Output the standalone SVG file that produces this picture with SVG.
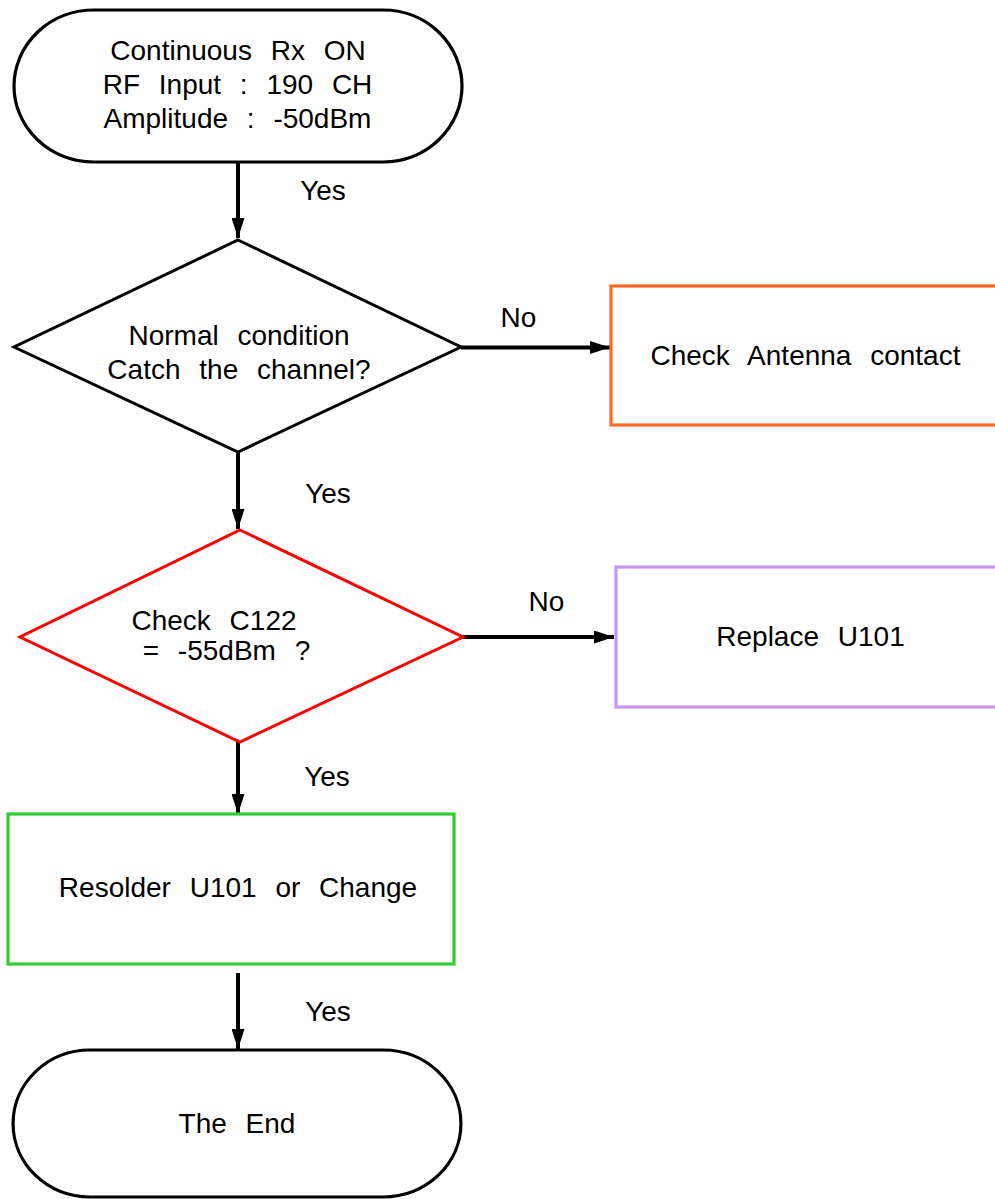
<svg xmlns="http://www.w3.org/2000/svg" width="995" height="1199" viewBox="0 0 995 1199">
<defs>
<style>
.t{font-family:"Liberation Sans",Arial,sans-serif;font-size:28px;fill:#000;text-anchor:middle;word-spacing:11px}
.term{fill:#fff;stroke:#000;stroke-width:3.2}
.conn{stroke:#000;stroke-width:4;fill:none}
</style>
<marker id="ah" markerUnits="userSpaceOnUse" markerWidth="20" markerHeight="13" refX="20" refY="6.5" orient="auto">
<path d="M0,0 L20,6.5 L0,13 Z" fill="#000"/>
</marker>
</defs>
<rect width="995" height="1199" fill="#fff"/>
<g id="connectors">
<line class="conn" x1="238" y1="162" x2="238" y2="238" marker-end="url(#ah)"/>
<line class="conn" x1="238" y1="452" x2="238" y2="529" marker-end="url(#ah)"/>
<line class="conn" x1="461" y1="347.5" x2="610" y2="347.5" marker-end="url(#ah)"/>
<line class="conn" x1="463" y1="637" x2="614" y2="637" marker-end="url(#ah)"/>
<line class="conn" x1="238" y1="742" x2="238" y2="814" marker-end="url(#ah)"/>
<line class="conn" x1="238" y1="973" x2="238" y2="1049" marker-end="url(#ah)"/>
<text class="t" x="323" y="200">Yes</text>
<text class="t" x="518.5" y="327">No</text>
<text class="t" x="328" y="503">Yes</text>
<text class="t" x="546.5" y="611">No</text>
<text class="t" x="327" y="786">Yes</text>
<text class="t" x="328" y="1021">Yes</text>
</g>
<g id="start">
<path class="term" d="M94,10 H383 A79,76 0 0 1 383,162 H94 A80,76 0 0 1 94,10 Z"/>
<text class="t" x="238" y="60">Continuous Rx ON</text>
<text class="t" x="237.5" y="94">RF Input : 190 CH</text>
<text class="t" x="237.5" y="128">Amplitude : -50dBm</text>
</g>
<g id="decision1">
<polygon points="238,240 461,347 238,452 14,347" fill="#fff" stroke="#000" stroke-width="3"/>
<text class="t" x="239" y="345">Normal condition</text>
<text class="t" x="239" y="379">Catch the channel?</text>
</g>
<g id="antenna">
<rect x="611" y="286" width="400" height="139" fill="#fff" stroke="#ff6a22" stroke-width="3.2"/>
<text class="t" x="805.5" y="365">Check Antenna contact</text>
</g>
<g id="decision2">
<polygon points="240,530 463,637 240,742 20,637" fill="#fff" stroke="#ff0000" stroke-width="3"/>
<text class="t" x="214" y="630">Check C122</text>
<text class="t" x="226.5" y="660">= -55dBm ?</text>
</g>
<g id="replace">
<rect x="616" y="567" width="400" height="140" fill="#fff" stroke="#c896f0" stroke-width="3.2"/>
<text class="t" x="810.5" y="646">Replace U101</text>
</g>
<g id="resolder">
<rect x="8" y="814" width="446" height="150" fill="#fff" stroke="#33cc33" stroke-width="3.2"/>
<text class="t" x="238" y="897">Resolder U101 or Change</text>
</g>
<g id="end">
<path class="term" d="M90,1050 H383 A78,73.5 0 0 1 383,1197 H90 A77,73.5 0 0 1 90,1050 Z"/>
<text class="t" x="237" y="1133">The End</text>
</g>
</svg>
